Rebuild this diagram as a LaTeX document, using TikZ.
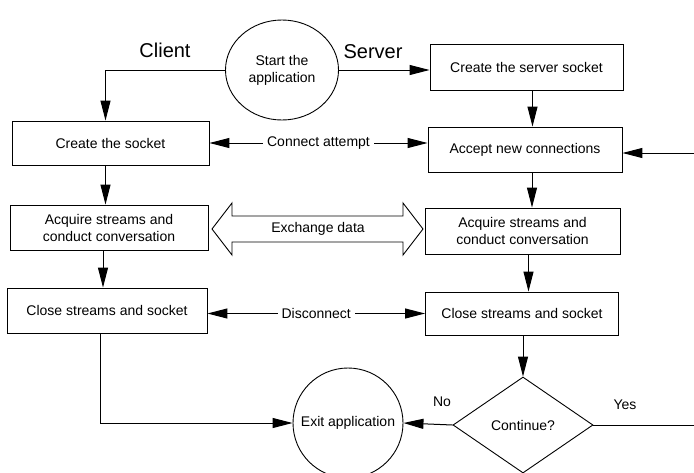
\documentclass[tikz,border=0pt]{standalone}
\usepackage{fontspec}
\setmainfont{Liberation Sans}
\usetikzlibrary{shapes.geometric,arrows.meta,calc}
\begin{document}
\begin{tikzpicture}[x=1pt,y=-1pt,
  every node/.style={font=\fontsize{14}{17}\selectfont},
  box/.style={draw, line width=0.9pt, inner sep=0pt, align=center},
  arr/.style={line width=1pt, -{Triangle[length=20pt,width=10pt]}},
  biarr/.style={line width=1pt, {Triangle[length=20pt,width=10pt]}-{Triangle[length=20pt,width=10pt]}},
  plain/.style={line width=1pt},
  lbl/.style={fill=white, inner sep=4pt},
  head/.style={font=\fontsize{20}{24}\selectfont}]
\useasboundingbox (0,0) rectangle (694,472);

% nodes
\node[box, ellipse, minimum width=113pt, minimum height=100pt] (start) at (282,70) {Start the\\application};
\node[head] (client) at (165,50) {Client};
\node[head] (server) at (373,52) {Server};

\node[box, minimum width=197pt, minimum height=44pt] (sock) at (110.5,143) {Create the socket};
\node[box, minimum width=198pt, minimum height=45pt] (acqL) at (109,227.5) {Acquire streams and\\conduct conversation};
\node[box, minimum width=200pt, minimum height=45pt] (closeL) at (107,310.5) {Close streams and socket};

\node[box, minimum width=193pt, minimum height=46pt] (srv) at (526.5,67) {Create the server socket};
\node[box, minimum width=194pt, minimum height=45pt] (acc) at (525,149.5) {Accept new connections};
\node[box, minimum width=195pt, minimum height=46pt] (acqR) at (522.5,231) {Acquire streams and\\conduct conversation};
\node[box, minimum width=193pt, minimum height=43pt] (closeR) at (522,313.5) {Close streams and socket};

\node[box, diamond, minimum width=140pt, minimum height=96pt] (cont) at (523,425) {Continue?};
\node[box, circle, minimum size=110pt] (exit) at (348,423) {Exit application};

\node (no) at (442,402) {No};
\node (yes) at (625,405) {Yes};

% exchange data double arrow
\draw[line width=0.9pt] (212,229) -- (232,203) -- (232,216) -- (403,216) -- (403,203)
  -- (423,229) -- (403,255) -- (403,242) -- (232,242) -- (232,255) -- cycle;
\node (xch) at (318,229) {Exchange data};

% connectors
\draw[arr] (start.west) -| ([xshift=-5pt]sock.north);
\draw[arr] (start.east) -- (start.east -| srv.west);
\draw[arr] ([xshift=6pt]srv.south) -- ([xshift=6pt]srv.south |- acc.north);
\draw[arr] ([xshift=-5pt]sock.south) -- ([xshift=-5pt]sock.south |- acqL.north);
\draw[arr] ([xshift=-6pt]acqL.south) -- ([xshift=-6pt]acqL.south |- closeL.north);
\draw[arr] ([xshift=7pt]acc.south) -- ([xshift=7pt]acc.south |- acqR.north);
\draw[arr] ([xshift=6pt]acqR.south) -- ([xshift=6pt]acqR.south |- closeR.north);
\draw[arr] (cont.north |- closeR.south) -- (cont.north);
\draw[arr] ([xshift=-7pt]closeL.south) |- (exit.west);
\draw[arr] (cont.west) -- (exit.east);
\coordinate (yesEnd) at (694,425);
\draw[plain] (cont.east) -- (yesEnd);
\coordinate (loopIn) at (694,153);
\draw[arr] (loopIn) -- (loopIn -| acc.east);

\draw[biarr] (sock.east) -- node[lbl] (conn) {Connect attempt} (sock.east -| acc.west);
\draw[biarr] (closeR.west -| closeL.east) -- node[lbl] (disc) {Disconnect} (closeR.west);
\end{tikzpicture}
\end{document}
